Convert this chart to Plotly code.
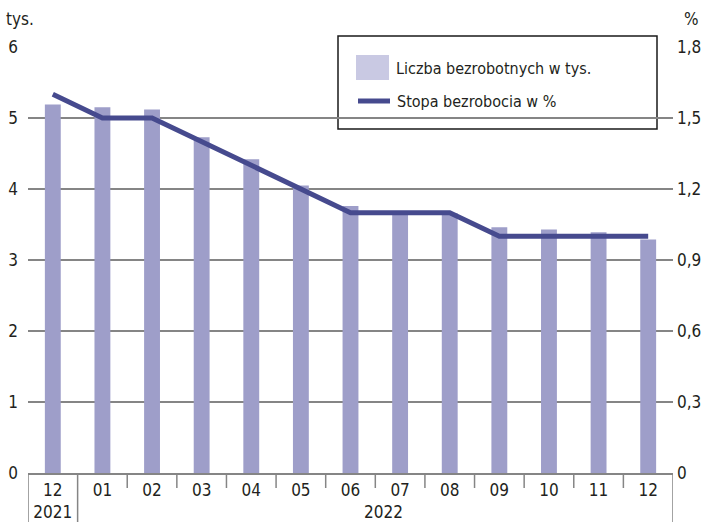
import plotly.graph_objects as go

# ---- data ----
months = ["2021-12", "2022-01", "2022-02", "2022-03", "2022-04", "2022-05", "2022-06",
          "2022-07", "2022-08", "2022-09", "2022-10", "2022-11", "2022-12"]
month_labels = ["12<br>2021", "01", "02", "03", "04", "05", "06", "07", "08", "09", "10", "11", "12"]
unemployed_thousands = [5.19, 5.15, 5.12, 4.73, 4.42, 4.05, 3.76, 3.67, 3.66, 3.46, 3.43, 3.39, 3.29]
unemployment_rate = [1.6, 1.5, 1.5, 1.4, 1.3, 1.2, 1.1, 1.1, 1.1, 1.0, 1.0, 1.0, 1.0]
left_ticks = [0, 1, 2, 3, 4, 5, 6]
right_ticks = [0, 0.3, 0.6, 0.9, 1.2, 1.5, 1.8]
right_tick_labels = ["0", "0,3", "0,6", "0,9", "1,2", "1,5", "1,8"]
legend_bar = "Liczba bezrobotnych w tys."
legend_line = "Stopa bezrobocia w %"

FONT = "Liberation Sans Narrow, DejaVu Sans Condensed, Arial Narrow, sans-serif"
TXT = "#231f20"
BAR = "#9e9ec9"
BAR_LEG = "#c9c9e3"
LINE = "#464a8e"
GRID = "#858585"
FS = 17
FS_LEG = 16

W, H = 702, 522
L, R, T, B = 28, 29, 47, 49
PW, PH = W - L - R, H - T - B


def px(x):
    return (x - L) / PW


def py(y):
    return (H - B - y) / PH


fig = go.Figure()
fig.add_trace(go.Bar(x=months, y=unemployed_thousands, marker=dict(color=BAR, line=dict(width=0)),
                     width=0.32, name=legend_bar, showlegend=False))
fig.add_trace(go.Scatter(x=months, y=unemployment_rate, yaxis="y2", mode="lines",
                         line=dict(color=LINE, width=5), name=legend_line, showlegend=False))

shapes = []
# category separators
n = len(months)
for i in range(n + 1):
    b = i - 0.5
    long = i in (0, 1, n)
    shapes.append(dict(type="line", xref="x", yref="paper", x0=b, x1=b, y0=0,
                       y1=py(H + 2) if long else -15 / PH,
                       line=dict(color=GRID, width=1.5), layer="above"))
# legend box
shapes.append(dict(type="rect", xref="paper", yref="paper", x0=px(338), x1=px(657),
                   y0=py(129), y1=py(36), fillcolor="white",
                   line=dict(color="#1a1a1a", width=1.5), layer="between"))
shapes.append(dict(type="rect", xref="paper", yref="paper", x0=px(356), x1=px(389),
                   y0=py(80), y1=py(55), fillcolor=BAR_LEG, line=dict(width=0), layer="above"))
shapes.append(dict(type="line", xref="paper", yref="paper", x0=px(358), x1=px(390),
                   y0=py(101), y1=py(101), line=dict(color=LINE, width=5), layer="above"))

annotations = [
    dict(text=legend_bar, x=px(394), y=py(69), xref="paper", yref="paper",
         xanchor="left", yanchor="middle", showarrow=False, font=dict(size=FS_LEG, color=TXT, family=FONT)),
    dict(text=legend_line, x=px(395), y=py(101), xref="paper", yref="paper",
         xanchor="left", yanchor="middle", showarrow=False, font=dict(size=FS_LEG, color=TXT, family=FONT)),
    dict(text="tys.", x=px(4), y=py(19), xref="paper", yref="paper",
         xanchor="left", yanchor="middle", showarrow=False, font=dict(size=FS, color=TXT, family=FONT)),
    dict(text="%", x=px(701), y=py(19), xref="paper", yref="paper",
         xanchor="right", yanchor="middle", showarrow=False, font=dict(size=FS, color=TXT, family=FONT)),
    dict(text="2022", x=px(383), y=py(512), xref="paper", yref="paper",
         xanchor="center", yanchor="middle", showarrow=False, font=dict(size=FS, color=TXT, family=FONT)),
]

fig.update_layout(
    width=W, height=H,
    margin=dict(l=L, r=R, t=T, b=B, pad=0, autoexpand=False),
    paper_bgcolor="white", plot_bgcolor="white",
    font=dict(family=FONT, size=FS, color=TXT),
    showlegend=False,
    xaxis=dict(type="category", categoryorder="array", categoryarray=months, automargin=False,
               tickvals=months, ticktext=month_labels, range=[-0.5, n - 0.5],
               showgrid=False, zeroline=False, showline=True, linecolor=GRID, linewidth=1.5,
               ticks="", ticklabelstandoff=1, tickfont=dict(size=FS, color=TXT, family=FONT)),
    yaxis=dict(range=[0, 6], tickvals=left_ticks, showgrid=True, gridcolor=GRID, gridwidth=1.5,
               automargin=False, zeroline=False, showline=False, ticks="", ticklabelstandoff=9,
               tickfont=dict(size=FS, color=TXT, family=FONT)),
    yaxis2=dict(range=[0, 1.8], overlaying="y", side="right", tickvals=right_ticks, automargin=False,
                ticktext=right_tick_labels, showgrid=False, zeroline=False, showline=False,
                ticks="", ticklabelstandoff=3, tickfont=dict(size=FS, color=TXT, family=FONT)),
    shapes=shapes,
    annotations=annotations,
)

fig.write_html("out.html", config={"displayModeBar": False},
               post_script="document.body.style.margin='0';document.body.style.overflow='hidden';")
